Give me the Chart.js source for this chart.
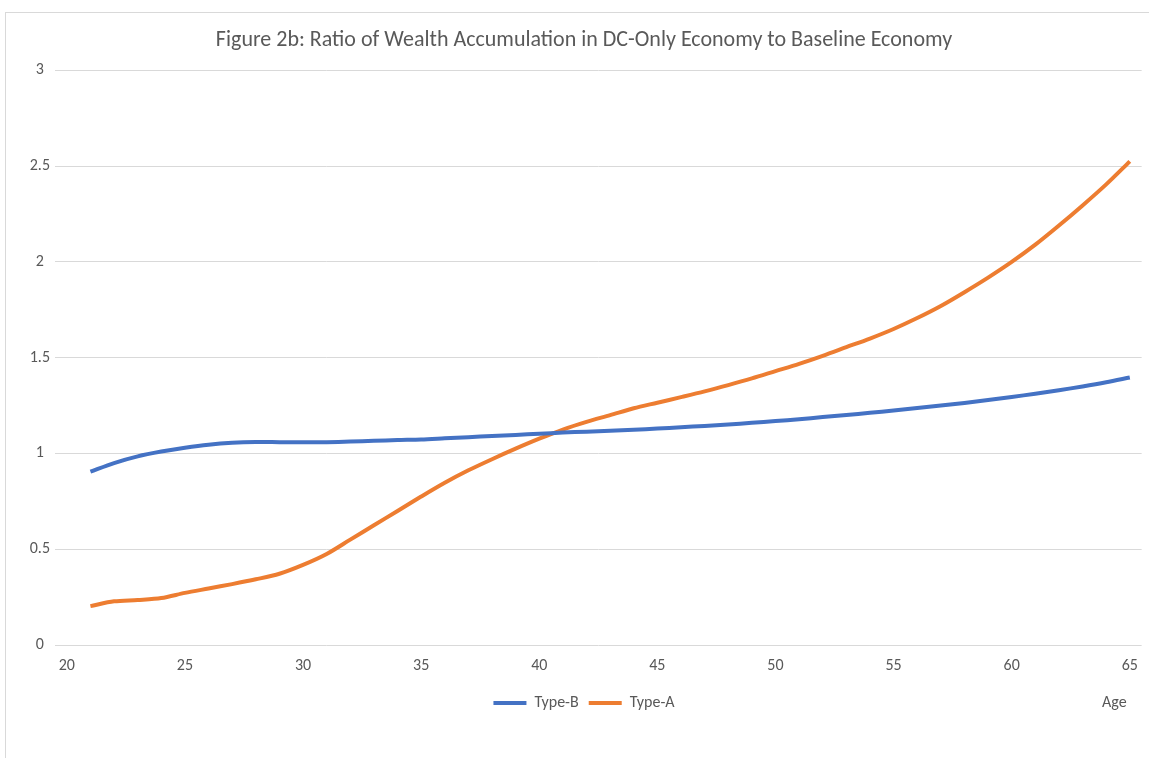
<!DOCTYPE html>
<html>
<head>
<meta charset="utf-8">
<title>Figure 2b</title>
<script src="https://cdn.jsdelivr.net/npm/chart.js@4"></script>
<style>
    html, body { margin: 0; padding: 0; background: #fff; overflow: hidden; }
    #frame { position: absolute; left: 5px; top: 12px; width: 1200px; height: 800px; border: 1px solid #d9d9d9; }
    #wrap { position: absolute; left: 0; top: 0; width: 1149px; height: 758px; }
</style>
</head>
<body>
<div id="frame"></div>
<div id="wrap"><canvas id="chart"></canvas></div>
<script>
// Ages (x values)
const ages = [21, 22, 23, 24, 25, 26, 27, 28, 29, 30, 31, 32, 33, 34, 35, 36, 37, 38, 39, 40, 41, 42, 43,
    44, 45, 46, 47, 48, 49, 50, 51, 52, 53, 54, 55, 56, 57, 58, 59, 60, 61, 62, 63, 64, 65];

// Ratio of wealth, DC-only economy / baseline economy
const typeB = [0.905, 0.95, 0.985, 1.01, 1.03, 1.046, 1.056, 1.06, 1.059, 1.058, 1.059, 1.062, 1.066, 1.07,
    1.073, 1.079, 1.085, 1.091, 1.097, 1.103, 1.109, 1.114, 1.119, 1.124, 1.13, 1.137, 1.144, 1.151, 1.16,
    1.169, 1.179, 1.19, 1.201, 1.212, 1.224, 1.237, 1.25, 1.264, 1.279, 1.295, 1.312, 1.33, 1.35, 1.372, 1.397];
const typeA = [0.203, 0.228, 0.235, 0.245, 0.272, 0.295, 0.318, 0.343, 0.372, 0.418, 0.475, 0.55, 0.625, 0.70,
    0.775, 0.847, 0.912, 0.97, 1.025, 1.077, 1.125, 1.165, 1.2, 1.236, 1.265, 1.294, 1.324, 1.357, 1.392,
    1.43, 1.468, 1.51, 1.555, 1.6, 1.65, 1.707, 1.77, 1.842, 1.918, 2.0, 2.09, 2.19, 2.295, 2.405, 2.525];

// Tick labels
const ageTicks = [20, 25, 30, 35, 40, 45, 50, 55, 60, 65];
const ratioTicks = [0, 0.5, 1, 1.5, 2, 2.5, 3];

const chartTitle = 'Figure 2b: Ratio of Wealth Accumulation in DC-Only Economy to Baseline Economy';
const xAxisTitle = 'Age';

const FONT = 'Carlito, Calibri, Lato, sans-serif';
const TEXT_COLOR = '#595959';

const toPoints = values => values.map((v, i) => ({ x: ages[i], y: v }));

// "Age" sits at the right end of the legend row, like the Excel original
const ageLabel = {
    id: 'ageLabel',
    afterDraw(chart) {
        const { ctx, chartArea, legend } = chart;
        ctx.save();
        ctx.font = '16px ' + FONT;
        ctx.fillStyle = TEXT_COLOR;
        ctx.textAlign = 'right';
        ctx.textBaseline = 'middle';
        ctx.fillText(xAxisTitle, chartArea.right - 15, legend.top + 18);
        ctx.restore();
    }
};

new Chart(document.getElementById('chart'), {
    type: 'line',
    data: {
        datasets: [
            {
                label: 'Type-B',
                data: toPoints(typeB),
                borderColor: '#4472C4',
                backgroundColor: '#4472C4',
                borderWidth: 4,
                pointRadius: 0,
                tension: 0.3
            },
            {
                label: 'Type-A',
                data: toPoints(typeA),
                borderColor: '#ED7D31',
                backgroundColor: '#ED7D31',
                borderWidth: 4,
                pointRadius: 0,
                tension: 0.3
            }
        ]
    },
    options: {
        responsive: true,
        maintainAspectRatio: false,
        animation: false,
        layout: { padding: { left: 26, right: 7, top: 0, bottom: 37 } },
        plugins: {
            title: {
                display: true,
                text: chartTitle,
                color: TEXT_COLOR,
                font: { family: FONT, size: 22, weight: 'normal' },
                padding: { top: 27, bottom: 17 }
            },
            legend: {
                position: 'bottom',
                labels: {
                    color: TEXT_COLOR,
                    font: { family: FONT, size: 16 },
                    boxWidth: 33,
                    boxHeight: 4,
                    padding: 10,
                    generateLabels(chart) {
                        return Chart.defaults.plugins.legend.labels.generateLabels(chart)
                            .map(item => ({ ...item, lineWidth: 0 }));
                    }
                }
            },
            tooltip: { enabled: false }
        },
        scales: {
            x: {
                type: 'linear',
                min: 19.5,
                max: 65.5,
                afterBuildTicks: scale => { scale.ticks = ageTicks.map(v => ({ value: v })); },
                afterFit: scale => { scale.height = 40; },
                grid: { display: false, drawTicks: false },
                border: { display: false },
                ticks: {
                    color: TEXT_COLOR,
                    font: { family: FONT, size: 16 },
                    padding: 11,
                    maxRotation: 0,
                    autoSkip: false
                }
            },
            y: {
                min: 0,
                max: 3,
                afterBuildTicks: scale => { scale.ticks = ratioTicks.map(v => ({ value: v })); },
                afterFit: scale => { scale.width = 29; },
                grid: { color: '#d9d9d9', lineWidth: 1, drawTicks: false },
                border: { display: false },
                ticks: {
                    color: TEXT_COLOR,
                    font: { family: FONT, size: 16 },
                    padding: 5,
                    crossAlign: 'center',
                    callback: value => String(value)
                }
            }
        }
    },
    plugins: [ageLabel]
});
</script>
</body>
</html>
